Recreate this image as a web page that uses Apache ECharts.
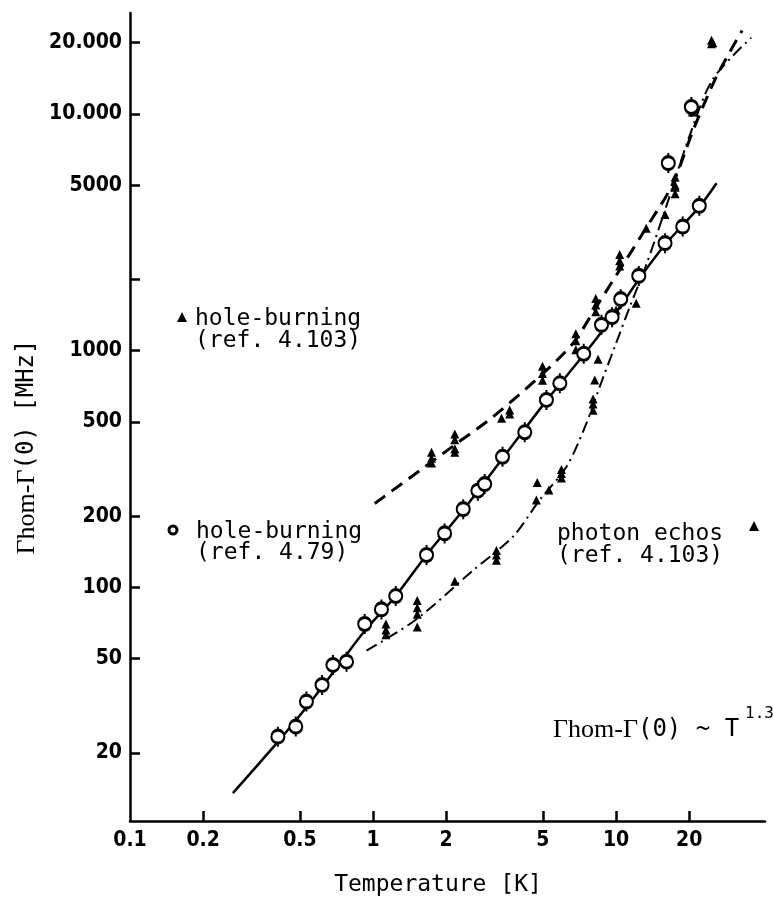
<!DOCTYPE html>
<html>
<head>
<meta charset="utf-8">
<script src="https://cdn.jsdelivr.net/npm/echarts@6/dist/echarts.min.js"></script>
<style>
  html, body { margin: 0; padding: 0; background: #fff; }
  #chart { width: 773px; height: 903px; }
</style>
</head>
<body>
<div id="chart"></div>
<script>
// Axis ticks and labels
const xTicks = [0.2, 0.5, 1, 2, 5, 10, 20];
const xTickLabels = [0.1, 0.2, 0.5, 1, 2, 5, 10, 20];
const yTicks = [20, 50, 100, 200, 500, 1000, 2000, 5000, 10000, 20000];
const yTickLabels = [20, 50, 100, 200, 500, 1000, 5000, 10000, 20000];

// Hole-burning, ref. 4.79 (open circles): [T in K, width in MHz]
const holeBurning479 = [
  [0.406, 23.4], [0.481, 25.8], [0.532, 32.9], [0.617, 38.7], [0.684, 47],
  [0.778, 48.5], [0.924, 70], [1.083, 80.7], [1.24, 91.9], [1.66, 137],
  [1.97, 169], [2.35, 214], [2.70, 256], [2.88, 273], [3.41, 356],
  [4.21, 452], [5.17, 619], [5.87, 728], [7.36, 970], [8.71, 1285],
  [9.63, 1385], [10.45, 1650], [12.4, 2069], [15.9, 2845], [18.8, 3342],
  [22.0, 4090], [16.4, 6200], [20.4, 10700]
];

// Hole-burning, ref. 4.103 (filled triangles)
const holeBurning4103 = [
  [1.74, 372], [1.74, 351], [1.74, 335],
  [2.17, 445], [2.17, 420], [2.17, 385], [2.17, 372],
  [3.38, 518], [3.65, 562], [3.65, 540],
  [4.98, 860], [4.98, 800], [4.98, 750],
  [6.83, 1180], [6.83, 1100], [6.83, 1010],
  [8.25, 1660], [8.25, 1560], [8.25, 1460],
  [10.35, 2550], [10.35, 2400], [10.35, 2280],
  [13.3, 3290],
  [17.5, 5400], [17.5, 5000], [17.5, 4600],
  [21.1, 11000], [21.1, 10500],
  [24.7, 20500], [24.7, 19800]
];

// Photon echos, ref. 4.103 (filled triangles)
const photonEcho4103 = [
  [1.13, 70], [1.13, 66], [1.13, 63],
  [1.52, 88], [1.52, 82], [1.52, 77], [1.52, 68],
  [2.17, 106],
  [3.22, 143], [3.22, 137], [3.22, 130],
  [4.70, 234], [4.74, 277], [5.29, 258],
  [5.96, 315], [5.96, 303], [5.96, 290],
  [8.04, 625], [8.04, 595], [8.04, 560],
  [8.17, 752], [8.43, 920],
  [10.0, 1486], [12.1, 1585],
  [15.9, 3760], [17.5, 4900],
  [20.6, 10200], [25.0, 20000]
];

// Guide curves
const fitCurve = [
  [0.265, 13.5], [0.41, 22.5], [0.53, 31], [0.7, 45], [0.93, 66],
  [1.24, 92], [1.66, 137], [2.35, 212], [3.41, 350], [5.17, 615],
  [7.36, 960], [10, 1450], [12.4, 2000], [15.9, 2800], [22, 4050], [25.9, 5100]
];
const holeBurningCurve = [
  [1.016, 226], [1.56, 312], [2.17, 400], [3.12, 526], [4.85, 778],
  [6.65, 1075], [8.3, 1535], [10.35, 2193], [13.3, 3300], [17, 5000],
  [21, 8800], [26, 14500], [33, 22500]
];
const photonEchoCurve = [
  [0.94, 54], [1.5, 73], [2.58, 118], [3.77, 164], [4.85, 234],
  [6.25, 323], [7.55, 493], [8.57, 705], [9.88, 1040], [11.4, 1535],
  [13.3, 2300], [16, 4000], [20, 8000], [25, 14000], [36, 21000]
];

const labelFont = {
  color: '#000',
  fontFamily: '"DejaVu Sans Condensed", "DejaVu Sans", sans-serif',
  fontWeight: 'bold',
  fontSize: 21
};
const monoFont = '"DejaVu Sans Mono", "Liberation Mono", monospace';
const serifFont = '"Liberation Serif", "DejaVu Serif", serif';

// open circle with short error-bar stubs above and below
const circleWithBars =
  'path://M10,0 L10,3.5 M16.5,10 A6.5,6.5 0 1 1 3.5,10 A6.5,6.5 0 1 1 16.5,10 Z M10,16.5 L10,20';

const chart = echarts.init(document.getElementById('chart'), null, { renderer: 'canvas' });

chart.setOption({
  animation: false,
  backgroundColor: '#fff',
  grid: { left: 130, right: 8, top: 13, bottom: 82, containLabel: false },
  xAxis: {
    type: 'log',
    logBase: 10,
    min: 0.1,
    max: 41,
    axisLine: { onZero: false, lineStyle: { color: '#000', width: 2.5 } },
    axisTick: { show: true, inside: true, length: 10, customValues: xTicks,
      lineStyle: { color: '#000', width: 2.5 } },
    axisLabel: Object.assign({ customValues: xTickLabels, margin: 9,
      formatter: v => String(v) }, labelFont),
    splitLine: { show: false },
    minorTick: { show: false },
    minorSplitLine: { show: false }
  },
  yAxis: {
    type: 'log',
    logBase: 10,
    min: 10.3,
    max: 26700,
    axisLine: { onZero: false, lineStyle: { color: '#000', width: 2.5 } },
    axisTick: { show: true, inside: true, length: 10, customValues: yTicks,
      lineStyle: { color: '#000', width: 2.5 } },
    axisLabel: Object.assign({ customValues: yTickLabels, margin: 8,
      formatter: v => v >= 10000 ? (v / 1000) + '.000' : String(v) }, labelFont),
    splitLine: { show: false },
    minorTick: { show: false },
    minorSplitLine: { show: false }
  },
  series: [
    {
      name: 'fit', type: 'line', data: fitCurve, smooth: 0.3, symbol: 'none',
      lineStyle: { color: '#000', width: 2.5 }, z: 2
    },
    {
      name: 'hole-burning curve', type: 'line', data: holeBurningCurve, smooth: 0.3, symbol: 'none',
      lineStyle: { color: '#000', width: 3, type: [13, 8] }, z: 2
    },
    {
      name: 'photon echo curve', type: 'line', data: photonEchoCurve, smooth: 0.3, symbol: 'none',
      lineStyle: { color: '#000', width: 2, type: [12, 5, 2, 5] }, z: 2
    },
    {
      name: 'hole-burning (ref. 4.79)', type: 'scatter', data: holeBurning479,
      symbol: circleWithBars, symbolSize: [13, 20], symbolKeepAspect: false,
      itemStyle: { color: '#fff', borderColor: '#000', borderWidth: 2.5, opacity: 1 }, z: 5
    },
    {
      name: 'hole-burning (ref. 4.103)', type: 'scatter', data: holeBurning4103,
      symbol: 'triangle', symbolSize: 9, itemStyle: { color: '#000', opacity: 1 }, z: 4
    },
    {
      name: 'photon echos (ref. 4.103)', type: 'scatter', data: photonEcho4103,
      symbol: 'triangle', symbolSize: 9, itemStyle: { color: '#000', opacity: 1 }, z: 4
    }
  ],
  graphic: [
    // axis titles
    {
      type: 'text', x: 438, y: 885,
      style: { text: 'Temperature [K]', font: '23px ' + monoFont, fill: '#000',
        align: 'center', verticalAlign: 'middle' }
    },
    {
      type: 'text', x: 27, y: 447, rotation: Math.PI / 2,
      style: {
        text: '{s|Γhom-Γ}{m|(0) [MHz]}',
        align: 'center', verticalAlign: 'middle', fill: '#000',
        rich: {
          s: { font: '26px ' + serifFont, fill: '#000' },
          m: { font: '24px ' + monoFont, fill: '#000' }
        }
      }
    },
    // annotation: hole-burning ref. 4.103
    {
      type: 'polygon', shape: { points: [[182, 312], [187, 322], [177, 322]] },
      style: { fill: '#000' }
    },
    {
      type: 'text', x: 195, y: 308,
      style: { text: 'hole-burning\n(ref. 4.103)', font: '23px ' + monoFont, fill: '#000',
        lineHeight: 22 }
    },
    // annotation: hole-burning ref. 4.79
    {
      type: 'circle', shape: { cx: 173, cy: 530, r: 4 },
      style: { fill: '#fff', stroke: '#000', lineWidth: 3 }
    },
    {
      type: 'text', x: 196, y: 522,
      style: { text: 'hole-burning\n(ref. 4.79)', font: '23px ' + monoFont, fill: '#000',
        lineHeight: 21 }
    },
    // annotation: photon echos
    {
      type: 'text', x: 557, y: 523,
      style: { text: 'photon echos\n(ref. 4.103)', font: '23px ' + monoFont, fill: '#000',
        lineHeight: 22 }
    },
    {
      type: 'polygon', shape: { points: [[754, 521], [759, 531], [749, 531]] },
      style: { fill: '#000' }
    },
    // power-law annotation
    {
      type: 'text', x: 553, y: 730,
      style: {
        text: '{s|Γhom-Γ}{m|(0) ~ T}',
        verticalAlign: 'middle', fill: '#000',
        rich: {
          s: { font: '26px ' + serifFont, fill: '#000' },
          m: { font: '24px ' + monoFont, fill: '#000' }
        }
      }
    },
    {
      type: 'text', x: 745, y: 714,
      style: { text: '1.3', font: '16px ' + monoFont, fill: '#000', verticalAlign: 'middle' }
    }
  ]
});
</script>
</body>
</html>
